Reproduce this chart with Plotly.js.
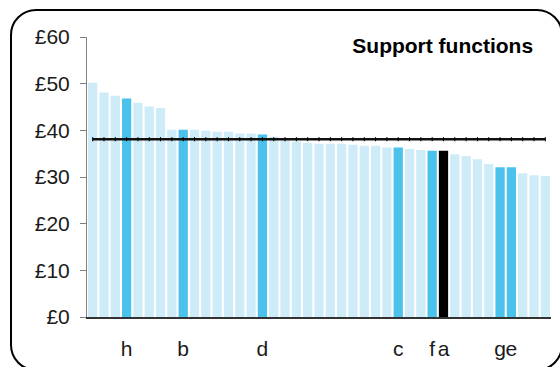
<!DOCTYPE html>
<html>
<head>
<meta charset="utf-8">
<script src="https://cdn.plot.ly/plotly-3.0.1.min.js"></script>
<style>
  html, body { margin: 0; padding: 0; background: #ffffff; width: 560px; height: 367px; overflow: hidden; }
  #frame { position: absolute; left: 10px; top: 9px; width: 553px; height: 362px; box-sizing: border-box;
           border: 2px solid #000; border-radius: 26px; pointer-events: none; }
  #chart { position: absolute; left: 0; top: 0; width: 560px; height: 367px; }
</style>
</head>
<body>
<div id="chart"></div>
<div id="frame"></div>
<script>
// ---- data ----
const values = [50.2, 48.1, 47.4, 46.8, 45.9, 45.1, 44.8, 40.1, 40.1, 40.1,
                39.9, 39.7, 39.7, 39.3, 39.3, 39.1, 38.6, 37.9, 37.6, 37.3,
                37.1, 37.1, 37.1, 36.9, 36.7, 36.7, 36.3, 36.3, 36.0, 35.8,
                35.6, 35.6, 34.9, 34.5, 33.8, 32.8, 32.1, 32.1, 30.8, 30.4, 30.2];
// bar kind: 0 = other, 1 = highlighted comparator, 2 = own
const kinds  = [0, 0, 0, 1, 0, 0, 0, 0, 1, 0,
                0, 0, 0, 0, 0, 1, 0, 0, 0, 0,
                0, 0, 0, 0, 0, 0, 0, 1, 0, 0,
                1, 2, 0, 0, 0, 0, 1, 1, 0, 0, 0];
const labelPositions = [3, 8, 15, 27, 30, 31, 36, 37];
const labelTexts     = ['h', 'b', 'd', 'c', 'f', 'a', 'g', 'e'];
const averageValue = 38.1;
const yTickVals = [0, 10, 20, 30, 40, 50, 60];
const yTickText = ['£0', '£10', '£20', '£30', '£40', '£50', '£60'];
const chartTitle = 'Support functions';

// ---- build ----
const palette = ['#cdecf8', '#4ac2eb', '#000000'];
const xs = values.map((v, i) => i);
const barColors = kinds.map(k => palette[k]);

const bars = {
  type: 'bar', x: xs, y: values,
  marker: { color: barColors, line: { width: 0 } },
  hoverinfo: 'y', showlegend: false
};
const avgLine = {
  type: 'scatter', mode: 'lines+markers',
  x: xs, y: xs.map(() => averageValue),
  line: { color: '#111111', width: 2.5 },
  marker: { symbol: 'line-ns-open', size: 3, color: '#000', line: { color: '#000', width: 1 } },
  hoverinfo: 'y', showlegend: false
};

const fontFam = '"Liberation Sans", Arial, sans-serif';
const layout = {
  width: 560, height: 367,
  margin: { l: 87, r: 9, t: 37, b: 50, pad: 0 },
  paper_bgcolor: 'rgba(0,0,0,0)', plot_bgcolor: 'rgba(0,0,0,0)',
  bargap: 0.18,
  font: { family: fontFam, size: 21, color: '#1a1a1a' },
  title: {
    text: '<b>' + chartTitle + '</b>',
    font: { family: fontFam, size: 21, color: '#000' },
    x: 0.952, xanchor: 'right', xref: 'container',
    y: 0.876, yanchor: 'middle', yref: 'container'
  },
  xaxis: {
    range: [-0.5, 40.5], tickmode: 'array', tickvals: labelPositions, ticktext: labelTexts,
    ticks: '', tickangle: 0, showgrid: false, zeroline: false, showline: true,
    linecolor: '#333333', linewidth: 2, ticklabelstandoff: 12,
    tickfont: { family: fontFam, size: 21, color: '#1a1a1a' }, fixedrange: true
  },
  yaxis: {
    range: [0, 60], tickmode: 'array', tickvals: yTickVals, ticktext: yTickText,
    ticks: 'outside', ticklen: 6, tickwidth: 1, tickcolor: '#808080',
    showgrid: false, zeroline: false, showline: true, linecolor: '#808080', linewidth: 1,
    ticklabelstandoff: 6,
    tickfont: { family: fontFam, size: 21, color: '#1a1a1a' }, fixedrange: true
  }
};

Plotly.newPlot('chart', [bars, avgLine], layout, { displayModeBar: false, staticPlot: true });
</script>
</body>
</html>
